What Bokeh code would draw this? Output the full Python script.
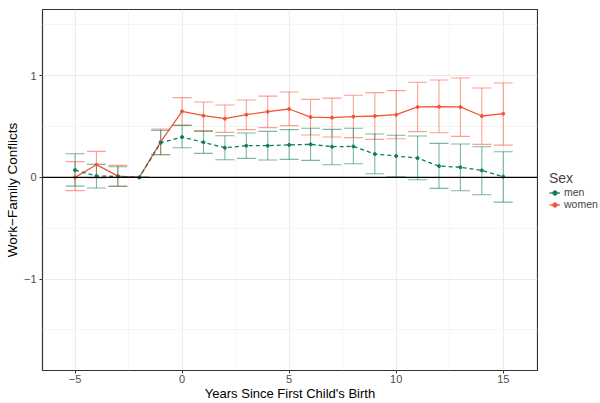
from bokeh.plotting import figure
from bokeh.layouts import row
from bokeh.models import (ColumnDataSource, Whisker, TeeHead, FixedTicker, Span,
                          Legend, LegendItem)
from bokeh.embed import file_html
from bokeh.resources import INLINE

years = [-5, -4, -3, -2, -1, 0, 1, 2, 3, 4, 5, 6, 7, 8, 9, 10, 11, 12, 13, 14, 15]
women_est = [0.00, 0.125, 0.013, 0.0, 0.35, 0.65, 0.607, 0.578, 0.617, 0.647, 0.673,
             0.594, 0.588, 0.598, 0.604, 0.617, 0.693, 0.696, 0.693, 0.604, 0.627]
women_lo = [-0.13, -0.005, -0.09, 0.0, 0.223, 0.512, 0.46, 0.443, 0.47, 0.49, 0.509,
            0.417, 0.397, 0.391, 0.374, 0.381, 0.45, 0.44, 0.404, 0.325, 0.318]
women_hi = [0.155, 0.256, 0.118, 0.0, 0.476, 0.785, 0.742, 0.712, 0.762, 0.80, 0.84,
            0.768, 0.78, 0.808, 0.834, 0.854, 0.936, 0.959, 0.978, 0.88, 0.929]
men_est = [0.072, 0.013, 0.01, 0.0, 0.34, 0.397, 0.345, 0.292, 0.312, 0.312, 0.32,
           0.325, 0.302, 0.305, 0.23, 0.21, 0.19, 0.111, 0.1, 0.069, 0.007]
men_lo = [-0.086, -0.105, -0.086, 0.0, 0.223, 0.292, 0.236, 0.174, 0.187, 0.171, 0.177,
          0.167, 0.125, 0.135, 0.036, 0.007, -0.023, -0.108, -0.131, -0.171, -0.243]
men_hi = [0.233, 0.128, 0.105, 0.0, 0.463, 0.512, 0.453, 0.41, 0.437, 0.453, 0.47,
          0.483, 0.473, 0.483, 0.427, 0.414, 0.407, 0.335, 0.328, 0.302, 0.253]

x_ticks = [-5, 0, 5, 10, 15]
x_minor = [-2.5, 2.5, 7.5, 12.5]
y_ticks = [-1, 0, 1]
y_minor = [-1.5, -0.5, 0.5, 1.5]
sex_labels = ["men", "women"]

MEN = "#127D5B"
WOMEN = "#F4553A"
FONT = "Liberation Sans"

p = figure(width=538, height=403, output_backend="svg", toolbar_location=None,
           x_range=(-6.52, 16.6), y_range=(-1.90, 1.652),
           min_border_left=42, min_border_right=1, min_border_top=9, min_border_bottom=31)

p.background_fill_color = "white"
p.border_fill_color = "white"
p.outline_line_color = "#333333"
p.outline_line_width = 1.2

p.xaxis.ticker = FixedTicker(ticks=x_ticks, minor_ticks=x_minor)
p.yaxis.ticker = FixedTicker(ticks=y_ticks, minor_ticks=y_minor)
p.xaxis.major_label_overrides = {-5: "\u22125"}
p.yaxis.major_label_overrides = {-1: "\u22121"}

for ax in (p.xaxis[0], p.yaxis[0]):
    ax.axis_line_color = None
    ax.major_tick_line_color = "#333333"
    ax.major_tick_out = 3
    ax.major_tick_in = 0
    ax.minor_tick_line_color = None
    ax.major_label_text_color = "#4D4D4D"
    ax.major_label_text_font = FONT
    ax.major_label_text_font_size = "11px"
    ax.axis_label_text_font = FONT
    ax.axis_label_text_font_size = "13.5px"
    ax.axis_label_text_font_style = "normal"
    ax.axis_label_text_color = "black"
    ax.major_label_standoff = 0
    ax.axis_label_standoff = 0
p.xaxis.axis_label_text_font_size = "13px"
p.yaxis.major_label_standoff = 2
p.yaxis.axis_label_standoff = 1

p.xaxis.axis_label = "Years Since First Child's Birth"
p.yaxis.axis_label = "Work\u2212Family Conflicts"

for g in (p.xgrid[0], p.ygrid[0]):
    g.grid_line_color = "#EBEBEB"
    g.grid_line_width = 1.1
    g.minor_grid_line_color = "#F2F2F2"
    g.minor_grid_line_width = 0.8

p.add_layout(Span(location=0, dimension="width", line_color="black", line_width=1.2))

src_w = ColumnDataSource(dict(x=years, est=women_est, lo=women_lo, hi=women_hi))
src_m = ColumnDataSource(dict(x=years, est=men_est, lo=men_lo, hi=men_hi))

for src, col in ((src_w, WOMEN), (src_m, MEN)):
    w = Whisker(source=src, base="x", lower="lo", upper="hi",
                line_color=col, line_alpha=0.55, line_width=1.1,
                upper_head=TeeHead(size=19, line_color=col, line_alpha=0.55, line_width=1.1),
                lower_head=TeeHead(size=19, line_color=col, line_alpha=0.55, line_width=1.1))
    p.add_layout(w)

p.line("x", "est", source=src_w, line_color=WOMEN, line_width=1.3)
p.scatter("x", "est", source=src_w, marker="circle", size=3, color=WOMEN)
p.line("x", "est", source=src_m, line_color=MEN, line_width=1.3, line_dash="4 3")
p.scatter("x", "est", source=src_m, marker="circle", size=3, color=MEN)

# legend figure on the right (its proxy renderers share the data but lie outside its view)
q = figure(width=62, height=403, output_backend="svg", toolbar_location=None,
           x_axis_type=None, y_axis_type=None, min_border=0,
           x_range=(100, 101), y_range=(100, 101))
q.outline_line_color = None
q.background_fill_color = "white"
q.border_fill_color = "white"
q.xgrid.visible = False
q.ygrid.visible = False

items = []
for lab, col, src in ((sex_labels[0], MEN, src_m), (sex_labels[1], WOMEN, src_w)):
    r1 = q.line("x", "est", source=src, line_color=col, line_width=1.3)
    r2 = q.scatter("x", "est", source=src, marker="circle", size=3, color=col)
    items.append(LegendItem(label=lab, renderers=[r1, r2]))

legend = Legend(items=items, location=(11, 160), title="Sex",
                title_text_font=FONT, title_text_font_size="14px",
                title_text_font_style="normal", title_standoff=0,
                label_text_font=FONT, label_text_font_size="10.5px",
                label_height=11, glyph_height=11, glyph_width=11,
                label_standoff=4, spacing=0, padding=0, margin=0,
                border_line_color=None, background_fill_alpha=0)
q.add_layout(legend)

layout = row(p, q, spacing=0)
open("out.html", "w").write(file_html(layout, INLINE))
